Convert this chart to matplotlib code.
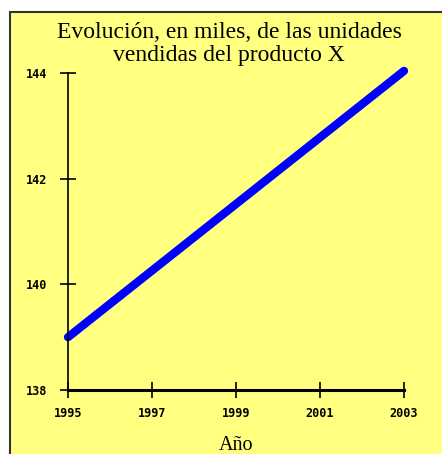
import matplotlib
matplotlib.use("Agg")
import matplotlib.pyplot as plt
from matplotlib.patches import Rectangle

# datos
anios = [1995, 1996, 1997, 1998, 1999, 2000, 2001, 2002, 2003]
unidades = [139.0, 139.63, 140.26, 140.89, 141.52, 142.15, 142.78, 143.41, 144.04]
xticks = [1995, 1997, 1999, 2001, 2003]
yticks = [138, 140, 142, 144]

W, H = 442, 454
fig = plt.figure(figsize=(W / 100, H / 100), dpi=100)
fig.patch.set_facecolor('white')

# fondo amarillo con borde
bg = fig.add_axes([0, 0, 1, 1], zorder=-1)
bg.set_xlim(0, W)
bg.set_ylim(H, 0)
bg.axis('off')
bg.add_patch(Rectangle((10, 12), W, H, facecolor='#ffff80', edgecolor='#333333',
                       linewidth=1.5))

ax = fig.add_axes([68 / W, (H - 390) / H, (404 - 68) / W, (390 - 73) / H], zorder=2)
ax.set_facecolor('none')
ax.plot(anios, unidades, color='#0000ff', linewidth=6, solid_capstyle='round',
        clip_on=False)
ax.set_xlim(1995, 2003)
ax.set_ylim(138, 144)
ax.set_xticks(xticks)
ax.set_yticks(yticks)
for s in ['top', 'right']:
    ax.spines[s].set_visible(False)
ax.spines['left'].set_linewidth(1.2)
ax.spines['bottom'].set_linewidth(2.2)
ax.tick_params(axis='y', direction='inout', length=12, width=1.2, labelsize=8.5, pad=9)
ax.tick_params(axis='x', direction='inout', length=12, width=1.2, labelsize=8.5, pad=6)
for lb in ax.get_xticklabels() + ax.get_yticklabels():
    lb.set_fontweight('bold')
    lb.set_family('DejaVu Sans Mono')

bg.text(W / 2 + 8, 44, 'Evolución, en miles, de las unidades\nvendidas del producto X',
        ha='center', va='center', fontsize=17, family='Liberation Serif',
        linespacing=1.15)
ax.set_xlabel('Año', fontsize=14.5, family='Liberation Serif', labelpad=12)

fig.savefig('out.png', dpi=100)
